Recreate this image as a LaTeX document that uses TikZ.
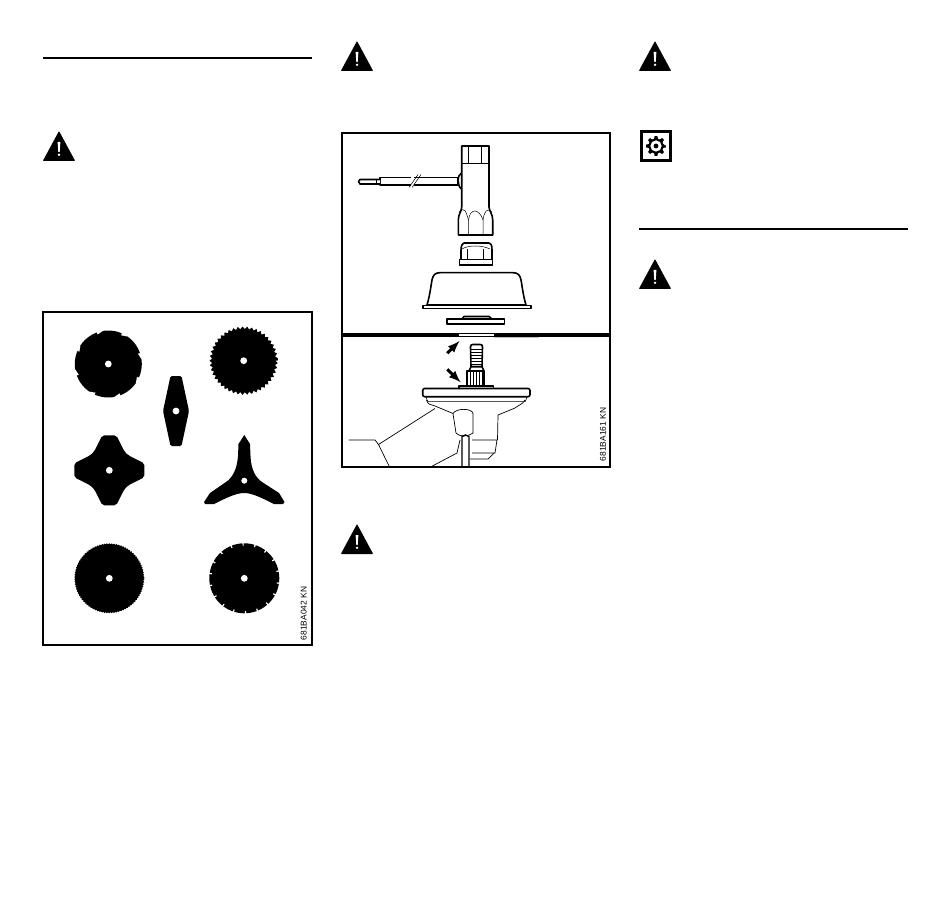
\documentclass[tikz,border=0pt]{standalone}
\usepackage{fontspec}
\setmainfont{Liberation Sans}
\usetikzlibrary{arrows}
\tikzset{
	part/.style={line width=1.6pt,line join=round,fill=white},
	fine/.style={line width=0.5pt},
	frame/.style={line width=1.5pt},
	rulebar/.style={line width=2pt},
	code/.style={rotate=90,inner sep=0pt,font=\fontsize{8.4}{9}\selectfont}
}
\begin{document}
\begin{tikzpicture}[x=1pt,y=-1pt]
\useasboundingbox (0,0) rectangle (950,901);

%Lineas de titulo
\draw [rulebar] (43,58.5) -- (312,58.5);
\draw [rulebar] (639,229) -- (908,229);

%Triangulos de aviso
\foreach \x/\y in {59/131,357/41,357/524,655/41,655/259} {
	\fill [black,rounded corners=0.8pt] (\x,\y) -- (\x+16.2,\y+30) -- (\x-16.2,\y+30) -- cycle;
	\fill [white] (\x-1.4,\y+11) -- (\x+1.4,\y+11) -- (\x+0.7,\y+21) -- (\x-0.7,\y+21) -- cycle;
	\fill [white] (\x,\y+23.8) circle (1.3);
}

%Icono de la rueda dentada
\draw [line width=3pt] (641.5,131.5) rectangle (670.5,160.5);
\fill [black,shift={(656,146)}] (0:10) \foreach \a in {0,45,...,315} {
	-- ({\a-8}:10) -- ({\a+8}:10) -- ({\a+15}:7.5) -- ({\a+30}:7.5)} -- cycle;
\fill [white] (656,146) circle (5.6);
\fill [black] (656,146) circle (2.4);

%Marcos de las figuras
\draw [frame] (43,312) rectangle (312,645);
\draw [frame] (342,133) rectangle (610,467);
\node [code] (codeblades) at (303.7,613.5) {681BA042 KN};
\node [code] (codehead) at (603,434.5) {681BA161 KN};

%Disco con ranuras
\begin{scope}[shift={(108.3,364)}]
\fill circle (33.5);
\foreach \a in {-109,-65,-18,25,70,115,161,-156}
	\fill [white] (\a-1:35) -- (\a-1:31.4) -- (\a+1.5:31.8) -- (\a+9:33.3) -- (\a+9:35) -- cycle;
\fill [white] circle (3.4);
\end{scope}

%Disco de dientes grandes
\fill [shift={(243.7,360.7)}] (0:34) \foreach \a in {0,8,...,352} {
	-- (\a:31.6) -- ({\a+4}:34.2)} -- cycle;
\fill [white] (243.7,360.7) circle (3.4);

%Cuchilla de dos puntas
\fill [rounded corners=1.5pt] (170.5,376) -- (181.5,376) -- (189,411) -- (181.5,446) -- (170.5,446) -- (163,411) -- cycle;
\fill [white] (176,411) circle (3.4);

%Cuchilla de cuatro puntas
\fill [shift={(109.3,470.3)},rounded corners=2pt] (0,-35) \foreach \a in {0,-90,-180,-270} {
	-- ([rotate=\a]7,-35) -- ([rotate=\a]15,-19) -- ([rotate=\a]19,-15) -- ([rotate=\a]35,-7)} -- cycle;
\fill [white] (109.3,470.3) circle (3.4);

%Cuchilla de tres puntas
\fill (244.3,435) -- (250,444) -- (250.5,456) .. controls (251,470) and (256,478) .. (262,482)
	-- (279,493) -- (284.5,502) -- (283,504) -- (274,504)
	.. controls (262,498) and (252,493) .. (244.3,493)
	.. controls (236,493) and (226,498) .. (214,504)
	-- (205,504) -- (204,502) -- (210,493) -- (226,482)
	.. controls (232,478) and (237,470) .. (238,456) -- (238.5,444) -- cycle;
\fill [white] (244.3,480.7) circle (3);

%Disco de dientes finos
\fill [shift={(109.3,578.3)}] (0:35) \foreach \a in {0,4,...,356} {
	-- (\a:34) -- ({\a+2}:35)} -- cycle;
\fill [white] (109.3,578.3) circle (3.4);

%Disco con muescas
\begin{scope}[shift={(244.3,578.3)}]
\fill circle (35);
\foreach \a in {0,20,...,340}
	\draw [white,line width=1.2pt] (\a+8:32.8) -- (\a+8:36);
\fill [white] circle (3.4);
\end{scope}

%Llave: mango
\draw [part] (380,177.5) rectangle (458,185);
\draw [part] (380,179.5) -- (360,179.5) -- (358.5,181.5) -- (360,184) -- (380,184);
\draw [fine] (376,179.5) -- (376,184);
\fill [white] (411,176) -- (414,176) -- (414,187) -- (411,187) -- cycle;
\draw [fine] (409,187.5) -- (418,174.5);
\draw [fine] (412,187.5) -- (421,174.5);

%Llave: cuerpo
\draw [part] (461.5,173) .. controls (457,175) and (457,186) .. (461.5,189);
\draw [part] (461.7,146) -- (489,146) -- (489,207) .. controls (489.5,212) and (492.7,214) .. (492.7,220)
	-- (492.7,235) -- (458.3,235) -- (458.3,220) .. controls (458.3,214) and (461.5,212) .. (461.7,207) -- cycle;
\draw [fine] (468.5,146) -- (468.5,163.5) (481.5,146) -- (481.5,163.5) (461.7,163.5) -- (489,163.5);
\draw [fine] (459,212) .. controls (465,206) and (466,212) .. (468.5,220) -- (468.5,235);
\draw [fine] (468.5,220) .. controls (470,208) and (479,208) .. (483,220) -- (483,235);
\draw [fine] (483,220) .. controls (484,212) and (487,207) .. (492,212);

%Tuerca
\draw [part] (461,260) -- (461,250) .. controls (461,245) and (463,243) .. (464,243) -- (489,243)
	.. controls (491,243) and (492,245) .. (492,250) -- (492,260) -- cycle;
\draw [part] (459.5,259.5) rectangle (492.5,265);
\draw [fine] (467,259.5) -- (467,249) (483,259.5) -- (483,249);
\draw [fine] (462,249) .. controls (468,245) and (482,245) .. (490,249);

%Copa
\draw [part] (427,305) .. controls (430,295) and (431,285) .. (432,280)
	.. controls (433,275) and (435,272.7) .. (440,272.7) -- (513,272.7)
	.. controls (518,272.7) and (520,275) .. (521,280)
	.. controls (522,285) and (523,295) .. (526,305) -- cycle;
\draw [part] (422.7,305.5) rectangle (530.7,308.3);

%Arandela
\draw [part] (462,319) -- (464,316.5) -- (489,316.5) -- (492,319);
\draw [part] (446.7,319) rectangle (504.3,324);

%Linea de separacion
\draw [line width=3.6pt] (342,334.7) -- (610,334.7);
\draw [white,line width=1.7pt] (459,335) -- (494,335);
\draw [gray!50,line width=0.6pt] (494,336.9) -- (539,336.9);

%Flechas
\draw [-latex,line width=3pt] (447.3,353.3) -- (459.5,341);
\draw [-latex,line width=3pt] (447.3,369.3) -- (460.7,382.3);

%Eje roscado
\draw [part] (471,366.7) -- (470.5,347) .. controls (470.5,345) and (471.5,344.5) .. (473,344.5) -- (480,344.5)
	.. controls (481.5,344.5) and (482.5,345) .. (482.5,347) -- (482,366.7) -- cycle;
\foreach \y in {349,352,...,364}
	\draw [fine] (471,\y) -- (482,\y);
\draw [part] (469,371) -- (471,366.7) -- (482,366.7) -- (484,371);
\draw [part] (467,371) rectangle (484,385.7);
\foreach \x in {470,473,...,482}
	\draw [fine] (\x,372) -- (\x,385.7);

%Plato y brida
\draw [part] (459,385.7) rectangle (493.3,389);
\draw [part,rounded corners=2pt] (422.7,388.5) rectangle (530,396.7);
\draw [fine] (426,396.7) .. controls (427,399) and (427,401) .. (428,401.7) -- (525,401.7) .. controls (526,401) and (526,399) .. (527,396.7);

%Carcasa
\draw [line width=0.7pt] (426.5,400) .. controls (428,405) and (430,404) .. (435,406) -- (453,413.5);
\draw [line width=0.7pt] (525,400) .. controls (522,405) and (520,404) .. (515,408) -- (498,415) -- (497.5,440);
\draw [line width=0.7pt] (435,408.5) -- (378.5,444.5) -- (389.5,467);
\draw [line width=0.7pt] (348.5,440) -- (375,440) -- (378.5,444.5);
\draw [line width=0.7pt] (430.5,467) -- (457,453) -- (460,440);
\draw [line width=0.7pt] (472,440) -- (497,440) -- (495,453) -- (472,453);
\draw [line width=0.7pt] (494,453) -- (488,459) -- (470,459);

%Cuello y eje
\draw [line width=0.7pt] (453,413.5) .. controls (456,408) and (472,408) .. (473,413.5) -- (473,433) .. controls (468,437) and (459,437) .. (456,433) -- cycle;
\draw [line width=1.4pt] (462,467) -- (462,436.5) .. controls (464,434.5) and (467,434.5) .. (469,436.5) -- (469,467);
\end{tikzpicture}
\end{document}
